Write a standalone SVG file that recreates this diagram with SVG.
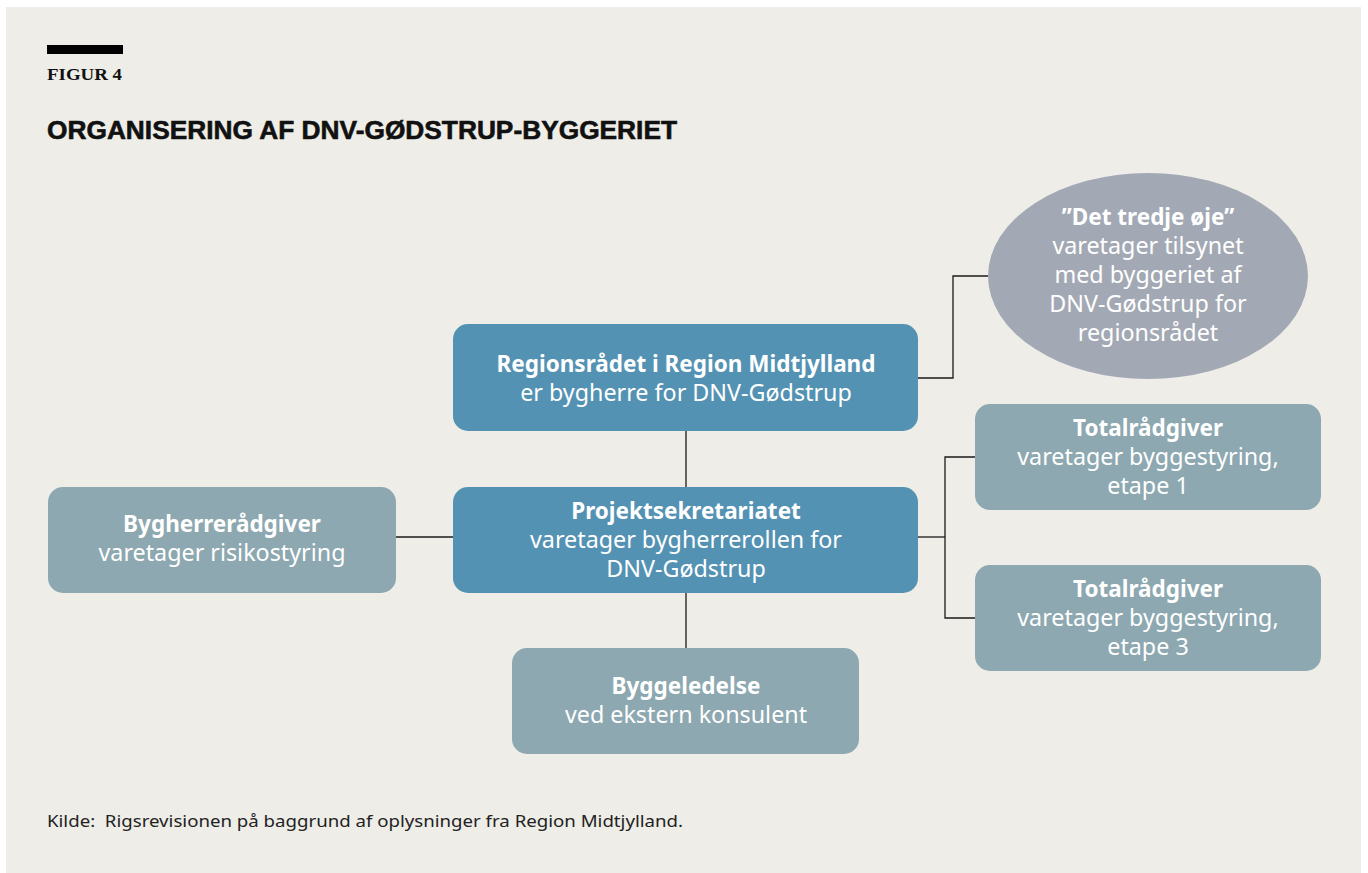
<svg xmlns="http://www.w3.org/2000/svg" width="1368" height="873" viewBox="0 0 1368 873">
<style>
.bg{fill:#eeede8}
.blue{fill:#5492b3}
.grey{fill:#8da8b0}
.ell{fill:#a3a9b4}
.t{font-family:"Noto Sans","Liberation Sans",sans-serif;font-size:23.3px;fill:#ffffff;text-anchor:middle}
.b{font-weight:bold;font-size:22.5px}
.c{fill:none;stroke:#1a1a1a;stroke-width:1.3}
</style>
<rect x="0" y="0" width="1368" height="873" fill="#ffffff"/>
<rect class="bg" x="6" y="7" width="1355" height="866"/>
<rect x="47" y="45" width="76" height="9" fill="#000"/>
<text x="47" y="80" font-family="Liberation Serif,serif" font-weight="bold" font-size="17" fill="#111" textLength="75" lengthAdjust="spacingAndGlyphs">FIGUR 4</text>
<text x="47" y="139" font-family="Liberation Sans,Arial,sans-serif" font-weight="bold" font-size="26" fill="#111" stroke="#111" stroke-width="0.6" textLength="630" lengthAdjust="spacingAndGlyphs">ORGANISERING AF DNV-GØDSTRUP-BYGGERIET</text>
<text x="47" y="827" font-family="Noto Sans,sans-serif" font-size="16.5" fill="#222" textLength="636" lengthAdjust="spacingAndGlyphs" xml:space="preserve">Kilde:  Rigsrevisionen på baggrund af oplysninger fra Region Midtjylland.</text>
<g id="connectors">
<polyline class="c" points="918,378 953,378 953,276 988,276"/>
<line class="c" x1="686" y1="431" x2="686" y2="487"/>
<line class="c" x1="686" y1="593" x2="686" y2="648"/>
<line class="c" x1="396" y1="537" x2="453" y2="537"/>
<line class="c" x1="918" y1="537" x2="945" y2="537"/>
<polyline class="c" points="975,457 945,457 945,618 975,618"/>
</g>
<g id="tredje-oeje">
<ellipse class="ell" cx="1148" cy="276" rx="160" ry="103"/>
<text class="t"><tspan class="b" x="1148" y="225">”Det tredje øje”</tspan><tspan x="1148" y="254">varetager tilsynet</tspan><tspan x="1148" y="283">med byggeriet af</tspan><tspan x="1148" y="312">DNV-Gødstrup for</tspan><tspan x="1148" y="341">regionsrådet</tspan></text>
</g>
<g id="regionsraadet">
<rect class="blue" x="453" y="324" width="465" height="107" rx="15"/>
<text class="t"><tspan class="b" x="686" y="372">Regionsrådet i Region Midtjylland</tspan><tspan x="686" y="401">er bygherre for DNV-Gødstrup</tspan></text>
</g>
<g id="projektsekretariatet">
<rect class="blue" x="453" y="487" width="465" height="106" rx="15"/>
<text class="t"><tspan class="b" x="686" y="519">Projektsekretariatet</tspan><tspan x="686" y="548">varetager bygherrerollen for</tspan><tspan x="686" y="577">DNV-Gødstrup</tspan></text>
</g>
<g id="bygherreraadgiver">
<rect class="grey" x="48" y="487" width="348" height="106" rx="15"/>
<text class="t"><tspan class="b" x="222" y="532">Bygherrerådgiver</tspan><tspan x="222" y="561">varetager risikostyring</tspan></text>
</g>
<g id="byggeledelse">
<rect class="grey" x="512" y="648" width="347" height="106" rx="15"/>
<text class="t"><tspan class="b" x="686" y="694">Byggeledelse</tspan><tspan x="686" y="723">ved ekstern konsulent</tspan></text>
</g>
<g id="totalraadgiver1">
<rect class="grey" x="975" y="404" width="346" height="106" rx="15"/>
<text class="t"><tspan class="b" x="1148" y="436">Totalrådgiver</tspan><tspan x="1148" y="465">varetager byggestyring,</tspan><tspan x="1148" y="494">etape 1</tspan></text>
</g>
<g id="totalraadgiver3">
<rect class="grey" x="975" y="565" width="346" height="106" rx="15"/>
<text class="t"><tspan class="b" x="1148" y="597">Totalrådgiver</tspan><tspan x="1148" y="626">varetager byggestyring,</tspan><tspan x="1148" y="655">etape 3</tspan></text>
</g>
</svg>
